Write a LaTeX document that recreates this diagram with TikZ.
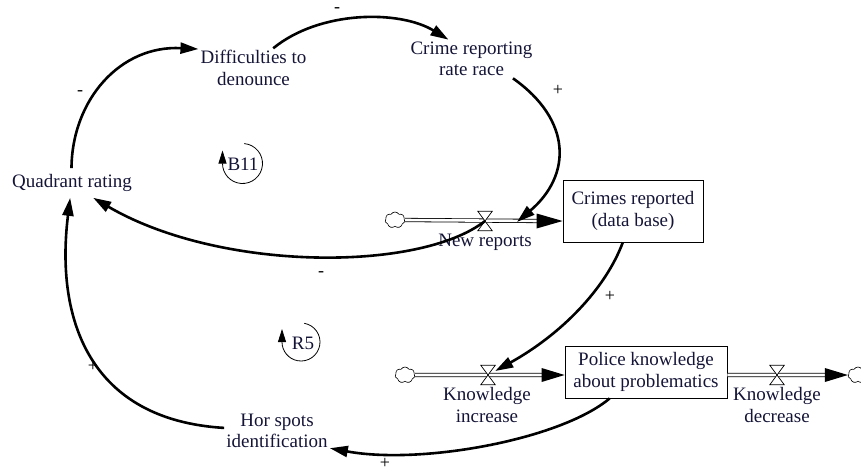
\documentclass[tikz,border=0pt]{standalone}
\usepackage{fontspec}
\setmainfont{Liberation Serif}
\usetikzlibrary{arrows.meta,shapes.symbols}
\definecolor{txt}{RGB}{20,20,55}
\begin{document}
\begin{tikzpicture}[x=1pt,y=1pt,
  lbl/.style={align=center, inner sep=2pt, text=txt, font=\fontsize{19}{21.5}\selectfont},
  stock/.style={lbl, draw=black, line width=0.8pt, inner sep=0pt},
  cl/.style={line width=2.6pt, -{Triangle[length=18pt,width=11pt]}},
  sgn/.style={text=black, font=\fontsize{18}{18}\selectfont, inner sep=0pt},
  pipe/.style={draw=black, line width=0.8pt, double=white, double distance=2.6pt},
  valve/.style={minimum width=14pt, minimum height=19pt, inner sep=0pt},
  valvetri/.style={draw=black, fill=white, line width=0.7pt},
  cloudn/.style={cloud, cloud puffs=7, cloud puff arc=120, aspect=1.3, draw=black, line width=0.6pt, fill=white, minimum width=20pt, minimum height=16pt, inner sep=0pt},
  looparc/.style={line width=0.8pt, draw=black, -{Triangle[length=13pt,width=8pt]}},
]
\useasboundingbox (0,0) rectangle (861,-472);

% variables
\node[lbl] (diff) at (253.5,-68) {Difficulties to\\denounce};
\node[lbl] (crime) at (471.5,-59) {Crime reporting\\rate race};
\node[lbl, inner ysep=6pt] (quad) at (72,-183) {Quadrant rating};
\node[lbl] (hor) at (277,-431) {Hor spots\\identification};

% stocks
\node[stock, minimum width=140pt, minimum height=62pt] (crb) at (633,-211) {Crimes reported\\(data base)};
\node[stock, minimum width=162pt, minimum height=52pt] (pk) at (646,-372) {Police knowledge\\about problematics};

% valves and clouds
\node[valve] (nrv) at (485,-221) {};
\node[valve] (kiv) at (488,-375) {};
\node[valve] (kdv) at (777,-375) {};
\node[cloudn] (c1) at (395,-220) {};
\node[cloudn] (c2) at (405,-375) {};
\node[cloudn] (c3) at (858,-375) {};

% flow labels
\node[lbl] (nr) at (485,-242) {New reports};
\node[lbl] (ki) at (487,-405) {Knowledge\\increase};
\node[lbl] (kd) at (777,-405) {Knowledge\\decrease};

% pipes
\coordinate (p1) at (crb.west |- nrv);
\coordinate (p2) at (pk.west |- kiv);
\coordinate (p3) at (c3.west);
\draw[pipe] (c1.east) -- ([xshift=-22pt]p1);
\fill[black] (p1) -- ++(-26,7.5) -- ++(0,-15) -- cycle;
\draw[pipe] (c2.east) -- ([xshift=-20pt]p2);
\fill[black] (p2) -- ++(-23,7) -- ++(0,-14) -- cycle;
\draw[pipe] (pk.east |- kdv) -- ([xshift=-20pt]p3);
\fill[black] (p3) -- ++(-23,7) -- ++(0,-14) -- cycle;
\foreach \v in {nrv,kiv,kdv}{
  \draw[valvetri] (\v.north west) -- (\v.north east) -- (\v.center) -- cycle;
  \draw[valvetri] (\v.south west) -- (\v.south east) -- (\v.center) -- cycle;
}

% causal links
\coordinate (nrin) at (517,-222);
\draw[cl] (quad.92) .. controls (72,-100) and (120,-45) .. (diff.161);
\draw[cl] (diff.45) .. controls (320,-10) and (400,-10) .. (crime.140);
\draw[cl] (crime.-25) .. controls (572,-120) and (572,-175) .. (nrin);
\draw[cl] (nrv.center) .. controls (420,-272) and (220,-272) .. (quad.-35);
\draw[cl] (crb.-108) .. controls (605,-290) and (560,-335) .. (kiv);
\draw[cl] (pk.-144) .. controls (560,-440) and (420,-465) .. (hor.-18);
\draw[cl] (hor) .. controls (90,-420) and (55,-320) .. (quad);

% polarities
\node[sgn] (s1) at (80,-93) {-};
\node[sgn] (s2) at (337,-10) {-};
\node[sgn] (s3) at (558,-90) {+};
\node[sgn] (s4) at (321,-274) {-};
\node[sgn] (s5) at (610,-296) {+};
\node[sgn] (s6) at (385,-463) {+};
\node[sgn] (s7) at (93,-366) {+};

% loop markers
\node[lbl] (b11) at (243,-164) {B11};
\node[lbl] (r5) at (303,-343) {R5};
\draw[looparc] (242.5,-163.5) ++(85:20) arc[start angle=85, end angle=-180, radius=20] -- ++(0,13);
\draw[looparc] (301,-342) ++(80:19) arc[start angle=80, end angle=-180, radius=19] -- ++(0,13);
\end{tikzpicture}
\end{document}
